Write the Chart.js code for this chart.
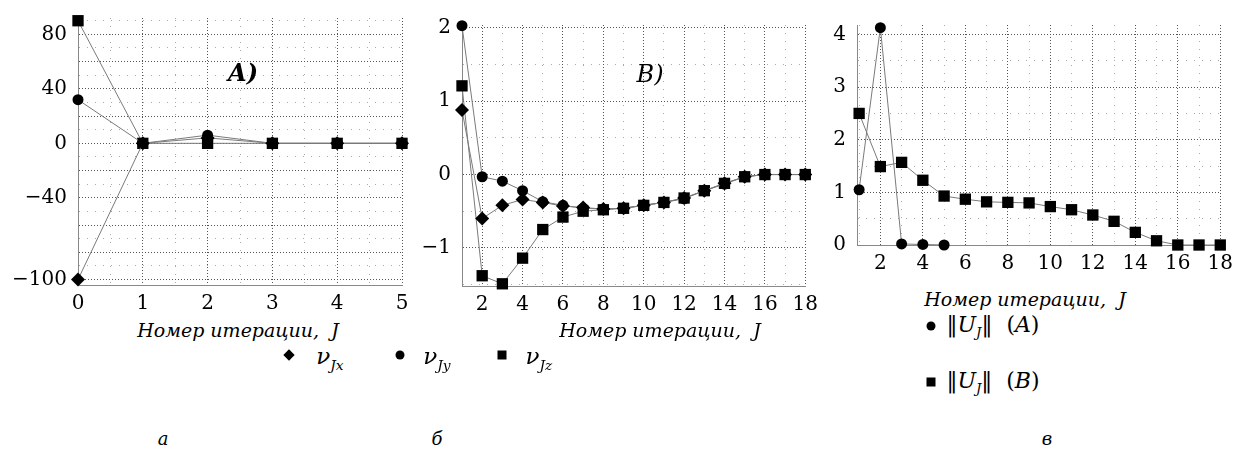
<!DOCTYPE html>
<html>
<head>
<meta charset="utf-8">
<script src="https://cdn.jsdelivr.net/npm/chart.js@4.4.1/dist/chart.umd.min.js"></script>
<style>
  body { margin: 0; width: 1246px; height: 452px; background: #fff; position: relative; overflow: hidden; }
  .panel { position: absolute; }
  .txt { position: absolute; white-space: nowrap; font-family: "DejaVu Serif", serif; color: #000; transform: translate(-50%, -50%); }
  .it { font-style: italic; }
  sub { font-size: 60%; }
  .mk { position: absolute; background: #000; width: 9px; height: 9px; transform: translate(-50%, -50%); }
  .mk.dot { border-radius: 50%; }
  .mk.dia { width: 8px; height: 8px; transform: translate(-50%, -50%) rotate(45deg); }
</style>
</head>
<body>
<div class="panel" style="left:0;top:-5px;width:420px;height:320px"><canvas id="chartA"></canvas></div>
<div class="panel" style="left:380px;top:2px;width:445px;height:314px"><canvas id="chartB"></canvas></div>
<div class="panel" style="left:780px;top:2px;width:460px;height:273px"><canvas id="chartC"></canvas></div>

<div class="txt it" style="left:243px;top:72px;font-size:24px;font-weight:bold">A)</div>
<div class="txt it" style="left:650px;top:74px;font-size:24px">B)</div>

<div class="txt it" style="left:238px;top:330px;font-size:19px">Номер итерации,&nbsp; J</div>
<div class="txt it" style="left:660px;top:330px;font-size:19px">Номер итерации,&nbsp; J</div>
<div class="txt it" style="left:1025px;top:299px;font-size:19px">Номер итерации,&nbsp; J</div>

<div class="mk dia" style="left:289px;top:355px"></div>
<div class="txt" style="left:330px;top:358px;font-size:23px"><span class="it">ν</span><sub class="it">Jx</sub></div>
<div class="mk dot" style="left:400px;top:355px"></div>
<div class="txt" style="left:437px;top:358px;font-size:23px"><span class="it">ν</span><sub class="it">Jy</sub></div>
<div class="mk" style="left:502px;top:355px"></div>
<div class="txt" style="left:539px;top:358px;font-size:23px"><span class="it">ν</span><sub class="it">Jz</sub></div>

<div class="mk dot" style="left:931px;top:326px"></div>
<div class="txt" style="left:993px;top:326px;font-size:22px">‖<span class="it">U</span><sub class="it">J</sub>‖&nbsp;&nbsp;(<span class="it">A</span>)</div>
<div class="mk" style="left:931px;top:382px"></div>
<div class="txt" style="left:993px;top:382px;font-size:22px">‖<span class="it">U</span><sub class="it">J</sub>‖&nbsp;&nbsp;(<span class="it">B</span>)</div>

<div class="txt it" style="left:163px;top:438px;font-size:18px">а</div>
<div class="txt it" style="left:437px;top:438px;font-size:18px">б</div>
<div class="txt it" style="left:1047px;top:438px;font-size:18px">в</div>

<script>
// panel A: iterations 0..5
const iterA = [0, 1, 2, 3, 4, 5];
const vxA = [-100, 0, 4, 0, 0, 0];
const vyA = [32, 0, 6, 0, 0, 0];
const vzA = [90, 0, 0, 0, 0, 0];
const yTicksA = [80, 40, 0, -40, -100];

// panel B: iterations 1..18
const iterB = [1, 2, 3, 4, 5, 6, 7, 8, 9, 10, 11, 12, 13, 14, 15, 16, 17, 18];
const vxB = [0.88, -0.6, -0.42, -0.34, -0.38, -0.43, -0.45, -0.47, -0.46, -0.42, -0.38, -0.32, -0.22, -0.12, -0.03, 0, 0, 0];
const vyB = [2.03, -0.03, -0.09, -0.22, -0.37, -0.42, -0.46, -0.47, -0.46, -0.42, -0.38, -0.33, -0.22, -0.13, -0.03, 0, 0, 0];
const vzB = [1.21, -1.38, -1.49, -1.14, -0.75, -0.58, -0.5, -0.48, -0.46, -0.42, -0.38, -0.32, -0.22, -0.12, -0.03, 0, 0, 0];

// panel C: norms
const iterC = [1, 2, 3, 4, 5, 6, 7, 8, 9, 10, 11, 12, 13, 14, 15, 16, 17, 18];
const normA = [1.05, 4.13, 0.02, 0.01, 0];
const normB = [2.5, 1.49, 1.57, 1.23, 0.93, 0.87, 0.82, 0.81, 0.8, 0.73, 0.67, 0.57, 0.45, 0.24, 0.08, 0, 0, 0];

const FONT = "'DejaVu Serif', serif";

function pts(xs, ys) {
  return ys.map((y, i) => ({ x: xs[i], y: y }));
}

function series(xs, ys, style, r) {
  return {
    data: pts(xs, ys),
    pointStyle: style,
    pointRadius: r,
    pointBackgroundColor: "#000",
    pointBorderColor: "#000",
    pointBorderWidth: 0,
    borderColor: "#7a7a7a",
    borderWidth: 1,
    showLine: true,
    clip: false
  };
}

function range(a, b, step) {
  const out = [];
  for (let v = a; v <= b + 1e-9; v += step) out.push(Math.round(v * 100) / 100);
  return out;
}

function axis(min, max, ticks, isMajor, label, fixedSize, horiz) {
  return {
    type: "linear",
    min: min,
    max: max,
    afterBuildTicks: s => { s.ticks = ticks.map(v => ({ value: v })); },
    afterFit: s => { if (horiz) s.height = fixedSize; else s.width = fixedSize; },
    grid: {
      drawTicks: false,
      color: c => isMajor(c.tick.value) ? "#555" : "#aaa",
      lineWidth: 1
    },
    border: {
      display: true,
      color: "#888",
      dash: c => (c.tick && isMajor(c.tick.value)) ? [1, 2] : [1, 7]
    },
    ticks: {
      autoSkip: false,
      maxRotation: 0,
      padding: horiz ? 7 : 11,
      color: "#000",
      font: { family: FONT, size: 20 },
      callback: v => label(v)
    }
  };
}

const minus = v => (v < 0 ? "\u2212" + Math.abs(v) : String(v));

function makeChart(id, datasets, xAxis, yAxis, padRight) {
  return new Chart(document.getElementById(id), {
    type: "scatter",
    data: { datasets: datasets },
    options: {
      responsive: true,
      maintainAspectRatio: false,
      animation: false,
      layout: { padding: { top: 15, right: padRight, left: 0, bottom: 0 } },
      plugins: { legend: { display: false }, tooltip: { enabled: false } },
      scales: { x: xAxis, y: yAxis }
    }
  });
}

makeChart("chartA",
  [series(iterA, vxA, "rectRot", 7), series(iterA, vyA, "circle", 5.5), series(iterA, vzA, "rect", 8)],
  axis(0, 5, range(0, 5, 0.5), v => Number.isInteger(v), v => Number.isInteger(v) ? String(v) : "", 30, true),
  axis(-104, 92, range(-100, 90, 10), v => v % 20 === 0, v => yTicksA.includes(v) ? minus(v) : "", 78, false),
  18);

makeChart("chartB",
  [series(iterB, vxB, "rectRot", 7), series(iterB, vyB, "circle", 5.5), series(iterB, vzB, "rect", 8)],
  axis(1, 18, range(1, 18, 1), v => v % 2 === 0, v => v % 2 === 0 ? String(v) : "", 30, true),
  axis(-1.52, 2.04, range(-1.5, 2, 0.5), v => Number.isInteger(v), v => Number.isInteger(v) ? minus(v) : "", 82, false),
  18);

makeChart("chartC",
  [series(iterC, normA, "circle", 5.5), series(iterC, normB, "rect", 8)],
  axis(0.9, 18, range(1, 18, 1), v => v % 2 === 0, v => v % 2 === 0 ? String(v) : "", 30, true),
  axis(0, 4.18, range(0, 4, 0.5), v => Number.isInteger(v), v => Number.isInteger(v) ? String(v) : "", 77, false),
  18);
</script>
</body>
</html>
